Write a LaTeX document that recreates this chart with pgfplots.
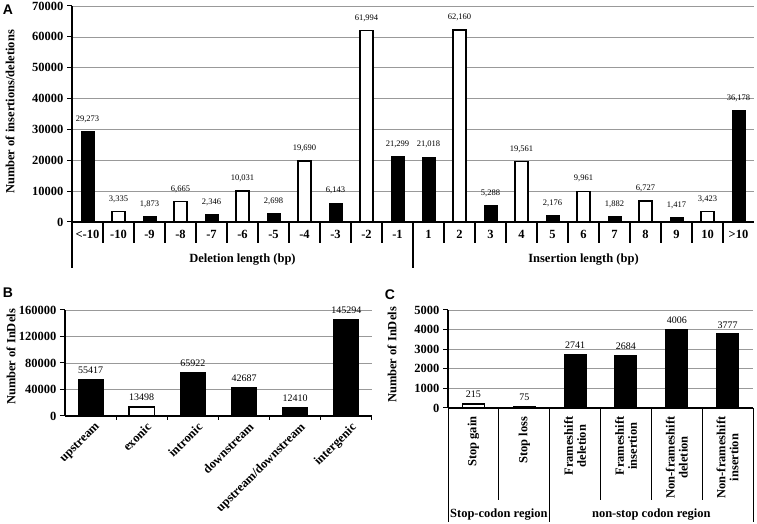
\documentclass[border=0pt]{standalone}
\usepackage{fontspec}
\setmainfont{Liberation Serif}
\newfontfamily\panelfont{Liberation Sans}
\usepackage{pgfplots}
\usepackage{pgfplotstable}
\pgfplotsset{compat=1.18}

% Panel A
\pgfplotstableread{
x y lab
0 29273 29,273
2 1873 1,873
4 2346 2,346
6 2698 2,698
8 6143 6,143
10 21299 21,299
11 21018 21,018
13 5288 5,288
15 2176 2,176
17 1882 1,882
19 1417 1,417
21 36178 36,178
}\Ablack
\pgfplotstableread{
x y lab
1 3335 3,335
3 6665 6,665
5 10031 10,031
7 19690 19,690
9 61994 61,994
12 62160 62,160
14 19561 19,561
16 9961 9,961
18 6727 6,727
20 3423 3,423
}\Awhite
% Panel B
\pgfplotstableread{
x y lab
0 55417 55417
2 65922 65922
3 42687 42687
4 12410 12410
5 145294 145294
}\Bblack
\pgfplotstableread{
x y lab
1 13498 13498
}\Bwhite
% Panel C
\pgfplotstableread{
x y lab
1 75 75
2 2741 2741
3 2684 2684
4 4006 4006
5 3777 3777
}\Cblack
\pgfplotstableread{
x y lab
0 215 215
}\Cwhite

\tikzset{grouplab/.style={font=\bfseries\fontsize{12.5}{13}\selectfont}}
\pgfplotsset{
  panel/.style={
    scale only axis, anchor=south west, clip=false,
    axis x line*=bottom, axis y line*=left,
    axis line style={black, line width=1.1pt},
    ymin=0, xmin=-0.5,
    ymajorgrids, grid style={draw=gray!80, line width=0.7pt},
    tick align=outside, major tick length=5pt,
    ytick style={black, line width=1pt},
    xtick style={draw=none},
    ticklabel style={font=\bfseries\fontsize{12.5}{13}\selectfont},
    /pgf/number format/assume math mode=true,
    /pgf/number format/fixed,
    /pgf/number format/precision=0,
    /pgf/number format/1000 sep={},
    scaled y ticks=false,
    ybar,
    point meta=explicit symbolic,
    nodes near coords,
    every node near coord/.append style={font=\fontsize{10}{10}\selectfont, black, yshift=2pt},
  },
  blackbar/.style={draw=black, fill=black, line width=1pt, bar shift=0pt},
  whitebar/.style={draw=black, fill=white, line width=1.5pt, bar shift=0pt},
}

\begin{document}
\begin{tikzpicture}
\useasboundingbox (0pt,0pt) rectangle (757pt,524pt);

% ---------------- Panel A ----------------
\begin{axis}[panel,
  at={(72pt,302pt)}, width=682pt, height=216pt,
  xmax=21.5, ymax=70000, ytick={0,10000,...,70000},
  bar width=13pt,
  every node near coord/.append style={font=\fontsize{8.5}{9}\selectfont, yshift=3pt},
  xtick={0,...,21},
  xticklabels={<-10,-10,-9,-8,-7,-6,-5,-4,-3,-2,-1,1,2,3,4,5,6,7,8,9,10,>10},
]
\addplot[blackbar] table[x=x,y=y,meta=lab]{\Ablack};
\addplot[whitebar] table[x=x,y=y,meta=lab]{\Awhite};
\pgfplotsinvokeforeach{0.5,1.5,2.5,3.5,4.5,5.5,6.5,7.5,8.5,9.5,11.5,12.5,13.5,14.5,15.5,16.5,17.5,18.5,19.5,20.5}{
  \draw[line width=1.1pt] (axis cs:#1,0) -- ++(0pt,-21pt);
}
\draw[line width=1.1pt] (axis cs:-0.5,0) -- ++(0pt,-46pt);
\draw[line width=1.1pt] (axis cs:10.5,0) -- ++(0pt,-46pt);
\node[grouplab] at (axis cs:5,0) [yshift=-38pt] {Deletion length (bp)};
\node[grouplab] at (axis cs:16,0) [yshift=-38pt] {Insertion length (bp)};
\end{axis}

% ---------------- Panel B ----------------
\begin{axis}[panel,
  at={(65pt,108pt)}, width=307pt, height=106pt,
  xmax=5.5, ymax=160000, ytick={0,40000,80000,120000,160000},
  bar width=25pt,
  xtick={0,...,5},
  xticklabels={upstream,exonic,intronic,downstream,upstream/downstream,intergenic},
  xticklabel style={rotate=45, anchor=north east, xshift=6pt},
]
\addplot[blackbar] table[x=x,y=y,meta=lab]{\Bblack};
\addplot[whitebar] table[x=x,y=y,meta=lab]{\Bwhite};
\pgfplotsinvokeforeach{0.5,1.5,2.5,3.5,4.5,5.5}{
  \draw[line width=1pt] (axis cs:#1,0) -- ++(0pt,-4pt);
}
\end{axis}

% ---------------- Panel C ----------------
\begin{axis}[panel,
  at={(448pt,116pt)}, width=305pt, height=98pt,
  xmax=5.5, ymax=5000, ytick={0,1000,...,5000},
  bar width=22pt,
  xtick={0,...,5},
  xticklabels={Stop gain,Stop loss,{Frameshift\\deletion},{Frameshift\\insertion},{Non-frameshift\\deletion},{Non-frameshift\\insertion}},
  xticklabel style={rotate=90, anchor=east, align=center},
]
\addplot[whitebar] table[x=x,y=y,meta=lab]{\Cwhite};
\addplot[blackbar] table[x=x,y=y,meta=lab]{\Cblack};
\pgfplotsinvokeforeach{0.5,2.5,3.5,4.5}{
  \draw[line width=1pt] (axis cs:#1,0) -- ++(0pt,-92pt);
}
\pgfplotsinvokeforeach{-0.5,1.5,5.5}{
  \draw[line width=1pt] (axis cs:#1,0) -- ++(0pt,-114pt);
}
\node[grouplab] at (axis cs:0.5,0) [yshift=-107pt] {Stop-codon region};
\node[grouplab] at (axis cs:3.5,0) [yshift=-107pt] {non-stop codon region};
\end{axis}

% ---------------- Labels ----------------
\node[rotate=90, grouplab] at (10pt,412pt) {Number of insertions/deletions};
\node[rotate=90, grouplab] at (11pt,167pt) {Number of InDels};
\node[rotate=90, grouplab] at (392pt,169pt) {Number of InDels};
\node[font=\panelfont\bfseries\fontsize{14}{14}\selectfont] at (8pt,514pt) {A};
\node[font=\panelfont\bfseries\fontsize{14}{14}\selectfont] at (8pt,231pt) {B};
\node[font=\panelfont\bfseries\fontsize{14}{14}\selectfont] at (390pt,229pt) {C};
\end{tikzpicture}
\end{document}
